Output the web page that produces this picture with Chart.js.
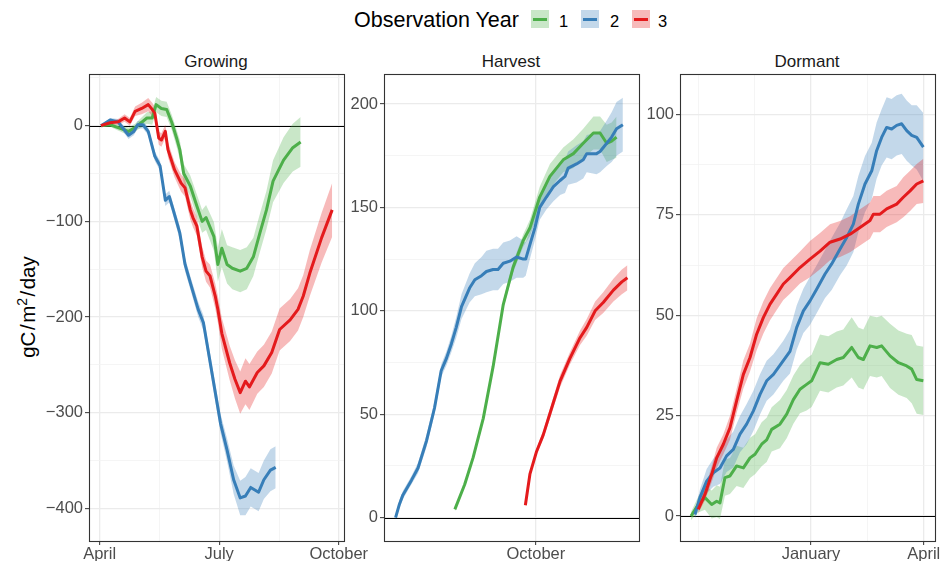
<!DOCTYPE html>
<html>
<head>
<meta charset="utf-8">
<title>Cumulative flux by season</title>
<script src="https://cdn.jsdelivr.net/npm/chart.js@4.4.1/dist/chart.umd.min.js"></script>
<style>
  html, body { margin: 0; padding: 0; background: #fff; }
  body { position: relative; width: 942px; height: 563px; overflow: hidden;
         font-family: "Liberation Sans", Arial, sans-serif; }
  canvas { position: absolute; left: 0; top: 0; }
  .txt { position: absolute; white-space: nowrap; }
  .strip { width: 200px; text-align: center; font-size: 17px; line-height: 20px; color: #1a1a1a; top: 52px; }
  .legTitle { left: 354px; top: 8px; font-size: 21.5px; line-height: 25px; color: #000; }
  .legLab { top: 11px; font-size: 16.5px; line-height: 20px; color: #000; }
  .key { position: absolute; top: 10px; width: 18px; height: 18px; }
  .key i { position: absolute; left: 2px; right: 2px; top: 7.5px; height: 3px; }
  .ytitle { left: -52px; top: 294px; width: 160px; height: 26px; line-height: 26px; text-align: center;
            font-size: 20.5px; color: #000; transform: rotate(-90deg); }
  .ytitle sup { font-size: 14px; line-height: 0; vertical-align: 8px; }
</style>
</head>
<body>

<div class="txt legTitle">Observation Year</div>
<div class="key" style="left:531px;background:rgba(77,175,74,0.3)"><i style="background:#4DAF4A"></i></div>
<div class="txt legLab" style="left:559px">1</div>
<div class="key" style="left:581px;background:rgba(55,126,184,0.3)"><i style="background:#377EB8"></i></div>
<div class="txt legLab" style="left:610px">2</div>
<div class="key" style="left:632px;background:rgba(228,26,28,0.3)"><i style="background:#E41A1C"></i></div>
<div class="txt legLab" style="left:658px">3</div>

<div class="txt ytitle">gC<span style="margin:0 1.5px">/</span>m<sup>2</sup><span style="margin:0 1.5px">/</span>day</div>

<div class="txt strip" style="left:116px">Growing</div>
<div class="txt strip" style="left:411px">Harvest</div>
<div class="txt strip" style="left:707px">Dormant</div>

<canvas id="growing" width="942" height="563"></canvas>
<canvas id="harvest" width="942" height="563"></canvas>
<canvas id="dormant" width="942" height="563"></canvas>

<script>
// ---- Growing season (x: days after 1 April) ----
const growX1 = [1,8,14,22,27,36,40,43,47,51,55,59,61,64,69,74,78,81,87,90,93,97,101,107,112,117,122,127,132,140,147,153];
const growY1 = [0,1,-2,-6,-2,8,8,22,18,17,3,-15,-25,-50,-63,-84,-100,-96,-116,-145,-128,-145,-149,-152,-149,-137,-112,-88,-58,-36,-23,-17];
const growS1 = [1,2,3,4,4,6,7,8,8,8,8,9,10,10,11,12,12,13,15,18,20,20,22,22,22,20,20,20,22,24,25,26];

const growX2 = [1,8,14,22,26,29,33,37,42,46,50,53,56,61,65,69,75,79,92,97,102,107,111,115,121,125,130,134];
const growY2 = [0,6,4,-10,-6,1,1,-6,-32,-42,-78,-74,-88,-112,-145,-164,-192,-206,-311,-339,-370,-389,-387,-378,-383,-370,-360,-357];
const growS2 = [1,2,3,4,4,4,4,4,5,5,6,6,6,7,7,7,8,8,10,12,15,18,20,20,20,20,22,22];

const growX3 = [1,8,14,19,23,27,32,37,40,42,45,47,50,52,57,62,65,69,71,74,78,81,84,88,90,93,99,103,107,111,114,120,125,131,137,145,151,155,160,169,177];
const growY3 = [0,3,4,8,4,15,18,22,17,13,-13,-15,-6,-25,-46,-60,-65,-88,-96,-105,-137,-152,-157,-178,-192,-217,-248,-265,-279,-267,-273,-258,-251,-237,-213,-203,-192,-178,-154,-117,-88];
const growS3 = [1,2,3,4,4,5,6,7,7,7,7,7,7,8,8,9,9,10,10,10,11,11,12,13,14,16,18,20,22,24,24,22,22,22,22,22,22,22,24,26,28];

// ---- Harvest season (x: days after 1 October) ----
const harvX1 = [-23.1,-20.3,-17.9,-15,-12.2,-9.3,-6.5,-3.6,-1.7,1.1,4,7.8,10.7,13.5,16.4,18.3,20.2,21.6,23];
const harvY1 = [4,16,29,48,73,103,121,134,140,155,165,173,176,181,186,186,181,182,184];
const harvS1 = [1,1,1,1.5,1.5,2,2.5,3,4,5,6,6,7,7,8,8,9,9,10];

const harvX2 = [-40,-38.9,-37.9,-35.5,-33.6,-31.2,-28.9,-27,-25.5,-24.1,-22.7,-21.2,-18.9,-17.4,-15.5,-14.1,-12.2,-10.8,-9.3,-7.4,-5.5,-3.6,-2.9,-1.7,-0.3,1.1,3,5,6.9,8.3,9.2,11.6,13.5,14.5,17.3,18.3,20.2,21.6,23,24.8];
const harvY2 = [0,6.5,11,18,24,37,53,71,77,84,92,102,111,115,117,119,120,120,123,124,126,125,125,132,140,150,155,160,163,165,169,171,173,176,176,177,181,184,188,190];
const harvS2 = [1,2,2,2,2.5,3,3,3,3.5,4,5,6,7,8,9,10,10,10,10,10,10,9,8,7,6,6,6,7,7,8,8,9,9,9,10,10,11,12,13,13];

const harvX3 = [-3,-1.7,0.2,2.1,4.5,6.9,9.7,12.6,14.5,16.9,19.2,22.1,24.5,26.1];
const harvY3 = [6,21,32,40,53,66,77,87,92,100,104,110,114,116];
const harvS3 = [1,1,1.5,2,2.5,3,3,3.5,4,4.5,5,5.5,6,6];

// ---- Dormant season (x: days after 1 January) ----
const dormX1 = [-95.8,-90,-84.7,-79.3,-75.3,-72.7,-68.7,-64.7,-59.4,-54,-48.7,-44.7,-39.4,-35.4,-31.4,-24.8,-19.4,-14.1,-8.8,-3.5,0.5,7.2,13.8,20.5,25.8,32.5,37.8,41.8,47.1,52.5,56.4,63.1,69.8,76.4,80.4,84.4,89.7];
const dormY1 = [0,2.9,4.6,2.9,3.7,3.3,9.6,10,12.5,12,14.5,15.4,17.9,19,21.6,22.9,25.4,29,31.6,32.8,33.7,38.2,37.8,39,39.5,42,39.5,39,42.4,42,42.4,39.9,38.2,37.4,36.6,34,33.7];
const dormS1 = [1,2,3,3.5,4,4,4.5,4.5,5,5,5,5,5.5,5.5,5.5,6,6,6,6,6.5,6.5,7,7,7,7,7.5,7.5,7.5,7.5,7.5,7.5,8,8,8,8.5,8.5,8.5];

const dormX2 = [-92.7,-88.7,-83.3,-78,-72.7,-67.4,-62,-56.7,-51.4,-46,-40.7,-35.4,-30,-22.1,-16.8,-11.4,-6.1,-0.8,4.5,11.2,16.5,23.2,28.5,33.8,37.8,43.1,48.5,52.4,56.4,60.4,64.4,68.4,72.4,76.4,80.4,84.4,89.7];
const dormY2 = [0.4,4.6,8.7,10.8,12,15,16.6,20.4,22.9,26.2,30.3,33.7,35.3,38.7,41,47,51.1,53.6,56.5,60.3,62.8,66.5,69.4,72.7,77.7,82.7,86,91,94.3,96.8,96.4,97.3,97.7,96,94.8,94.3,91.9];
const dormS2 = [1,2,3,3.5,4,4,4.5,4.5,5,5,5,5,5,5,5.5,5.5,5.5,6,6,6,6.5,6.5,7,7,7,7,7,7,7,7.5,7.5,7.5,7.5,7.5,7.5,8,8.5];

const dormX3 = [-90,-84.7,-79.3,-75.3,-70,-64.7,-59.4,-54,-48.7,-43.4,-38,-32.7,-27.4,-22.1,-16.8,-8.8,-0.8,7.2,15.2,23.2,31.2,39.1,47.1,49.8,55.1,60.4,68.4,73.7,79.1,84.4,89.7];
const dormY3 = [1.7,5.4,10.4,14.5,17.9,22,28.7,35.3,39.5,45.3,49.5,52.8,55.3,57.8,59.4,61.9,64,66,68.2,69,70.2,71.9,73.6,75.2,75.2,76.5,77.7,79.4,81,82.7,83.5];
const dormS3 = [1,1.5,2,2.5,2.5,3,3,3.5,3.5,4,4,4,4,4,4,4,4.5,4.5,4.5,4.5,4.5,4.5,4.5,4.5,4.5,4.5,4.5,5,5,5,5.5];

// ---- axis breaks ----
const growMonthAt = [0, 91, 182];
const growMonthName = ['April', 'July', 'October'];
const growMinorX = [45.5, 137];
const harvMonthAt = [0];
const harvMonthName = ['October'];
const harvMinorX = [];
const dormMonthAt = [0, 90];
const dormMonthName = ['January', 'April'];
const dormMinorX = [-90, -45, 45];

const growYMajor = [-400, -300, -200, -100, 0];
const growYMinor = [-350, -250, -150, -50, 50];
const harvYMajor = [0, 50, 100, 150, 200];
const harvYMinor = [25, 75, 125, 175];
const dormYMajor = [0, 25, 50, 75, 100];
const dormYMinor = [12.5, 37.5, 62.5, 87.5];

const yearColors = ['#4DAF4A', '#377EB8', '#E41A1C'];
const yearFills = ['rgba(77,175,74,0.3)', 'rgba(55,126,184,0.3)', 'rgba(228,26,28,0.3)'];

Chart.defaults.font.family = '"Liberation Sans", Arial, sans-serif';
Chart.defaults.font.size = 16.5;
Chart.defaults.color = '#4d4d4d';

function tickList(majors, minors) {
  return majors.map(v => ({ value: v, minor: false }))
    .concat(minors.map(v => ({ value: v, minor: true })))
    .sort((a, b) => a.value - b.value);
}

const gridStyle = {
  color: c => (c.tick && c.tick.minor) ? '#f3f3f3' : '#ebebeb',
  lineWidth: c => (c.tick && c.tick.minor) ? 0.8 : 1.3,
  tickColor: c => (c.tick && c.tick.minor) ? 'rgba(0,0,0,0)' : '#333333',
  tickWidth: 1,
  tickLength: 4
};

function fmt(v) {
  return v < 0 ? '\u2212' + Math.abs(v) : String(v);
}

function axisX(min, max, majors, names, minors) {
  return {
    type: 'linear', min, max,
    afterBuildTicks: s => { s.ticks = tickList(majors, minors); },
    afterFit: s => { s.height = 20; s.paddingLeft = 0; s.paddingRight = 0; },
    ticks: {
      autoSkip: false, maxRotation: 0, minRotation: 0, padding: 0,
      callback: v => { const i = majors.indexOf(v); return i < 0 ? '' : names[i]; }
    },
    grid: gridStyle,
    border: { display: false }
  };
}

function axisY(min, max, majors, minors) {
  return {
    type: 'linear', min, max,
    afterBuildTicks: s => { s.ticks = tickList(majors, minors); },
    afterFit: s => { s.width = 45; s.paddingTop = 0; s.paddingBottom = 0; },
    ticks: { padding: 2, callback: v => majors.includes(v) ? fmt(v) : '' },
    grid: gridStyle,
    border: { display: false }
  };
}

// ribbon (lower + upper filled to lower) and mean line for one year
function yearSets(k, xs, ys, sp) {
  const base = k * 3;
  return [
    { data: xs.map((x, i) => ({ x, y: ys[i] - sp[i] })), borderWidth: 0, borderColor: 'rgba(0,0,0,0)',
      pointRadius: 0, fill: false, order: 30 - k },
    { data: xs.map((x, i) => ({ x, y: ys[i] + sp[i] })), borderWidth: 0, borderColor: 'rgba(0,0,0,0)',
      pointRadius: 0, fill: { target: base }, backgroundColor: yearFills[k], order: 30 - k },
    { data: xs.map((x, i) => ({ x, y: ys[i] })), borderColor: yearColors[k], borderWidth: 3,
      pointRadius: 0, fill: false, order: 10 - k, borderJoinStyle: 'round', borderCapStyle: 'butt' }
  ];
}

// zero reference line and the panel frame
const panelFrame = {
  id: 'panelFrame',
  beforeDatasetsDraw(chart) {
    const { ctx, chartArea: a, scales: { y } } = chart;
    const y0 = Math.round(y.getPixelForValue(0)) + 0.5;
    ctx.save();
    ctx.strokeStyle = '#000';
    ctx.lineWidth = 1;
    ctx.beginPath();
    ctx.moveTo(a.left, y0);
    ctx.lineTo(a.right, y0);
    ctx.stroke();
    ctx.restore();
  },
  afterDraw(chart) {
    const { ctx, chartArea: a } = chart;
    ctx.save();
    ctx.strokeStyle = '#333333';
    ctx.lineWidth = 1.1;
    ctx.strokeRect(a.left + 0.5, a.top + 0.5, a.right - a.left, a.bottom - a.top);
    ctx.restore();
  }
};

function panel(id, box, series, xAxis, yAxis) {
  const datasets = [];
  series.forEach((s, k) => datasets.push(...yearSets(k, s[0], s[1], s[2])));
  new Chart(document.getElementById(id), {
    type: 'line',
    data: { datasets },
    options: {
      responsive: false,
      maintainAspectRatio: false,
      devicePixelRatio: 1,
      animation: false,
      events: [],
      layout: { padding: { left: box.left - 45, top: box.top, right: 942 - box.right, bottom: 563 - box.bottom - 20 } },
      plugins: { legend: { display: false }, tooltip: { enabled: false }, filler: { propagate: false } },
      scales: { x: xAxis, y: yAxis }
    },
    plugins: [panelFrame]
  });
}

panel('growing', { left: 89, top: 74, right: 344, bottom: 541 },
  [[growX1, growY1, growS1], [growX2, growY2, growS2], [growX3, growY3, growS3]],
  axisX(-8.1, 186, growMonthAt, growMonthName, growMinorX),
  axisY(-434, 54, growYMajor, growYMinor));

panel('harvest', { left: 384, top: 74, right: 639, bottom: 541 },
  [[harvX1, harvY1, harvS1], [harvX2, harvY2, harvS2], [harvX3, harvY3, harvS3]],
  axisX(-43.3, 29.4, harvMonthAt, harvMonthName, harvMinorX),
  axisY(-11.3, 214.5, harvYMajor, harvYMinor));

panel('dormant', { left: 680, top: 74, right: 935, bottom: 541 },
  [[dormX1, dormY1, dormS1], [dormX2, dormY2, dormS2], [dormX3, dormY3, dormS3]],
  axisX(-104.6, 99, dormMonthAt, dormMonthName, dormMinorX),
  axisY(-6.2, 110.1, dormYMajor, dormYMinor));
</script>
</body>
</html>
